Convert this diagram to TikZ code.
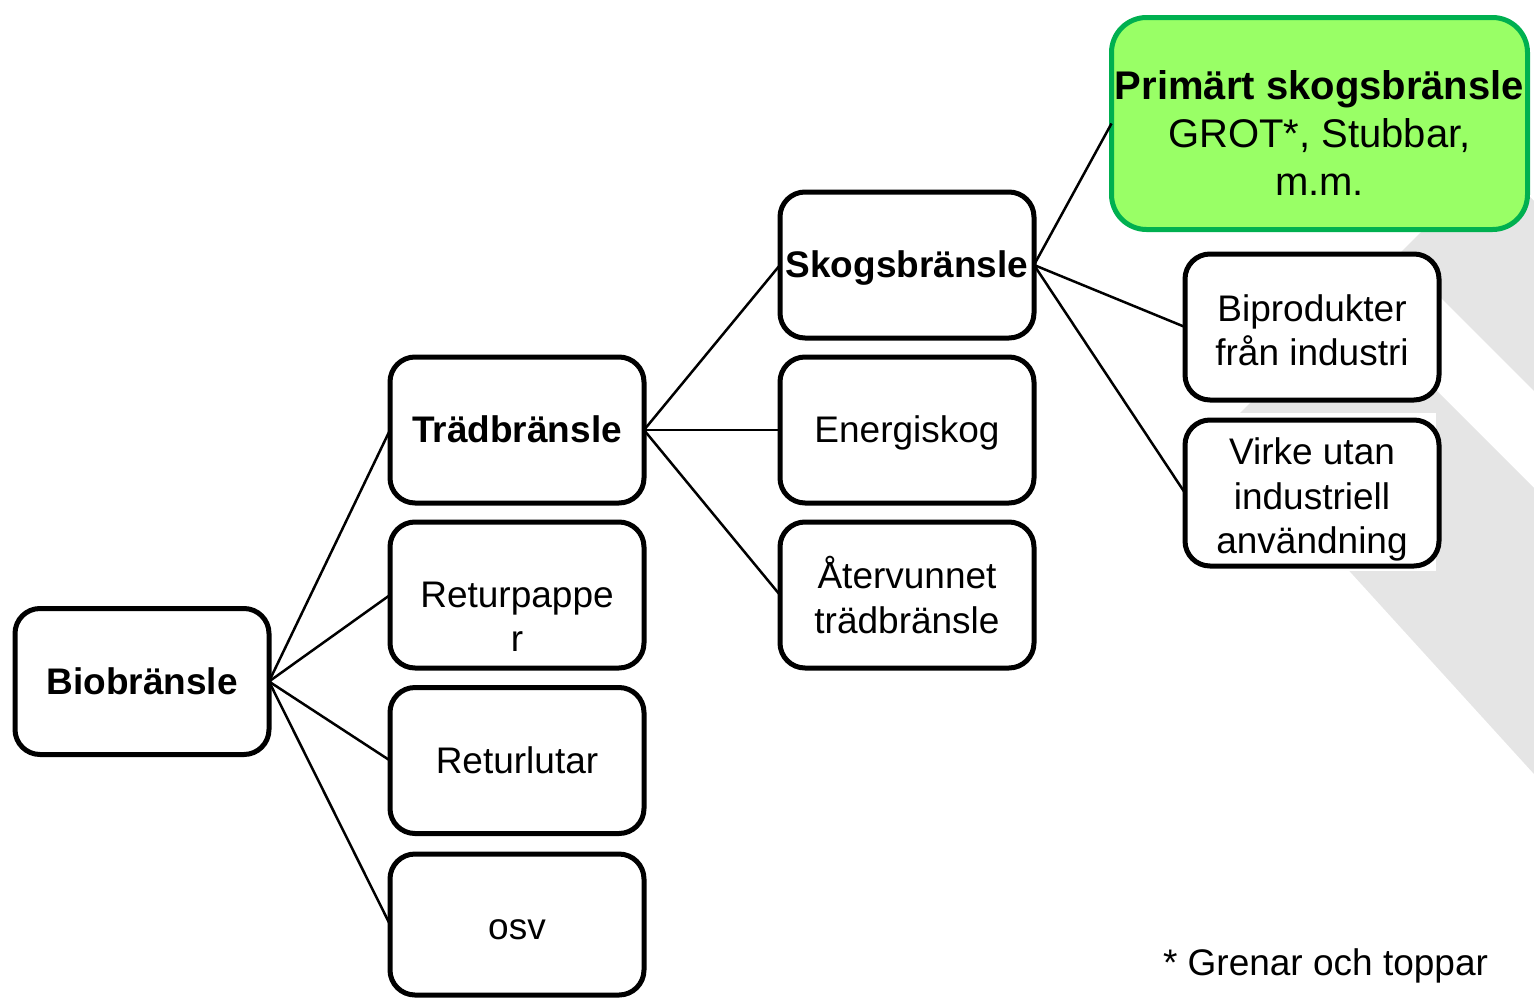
\documentclass[tikz,border=0pt]{standalone}
\usepackage{fontspec}
\setmainfont{Liberation Sans}
\definecolor{greenfill}{HTML}{99FF66}
\definecolor{greenline}{HTML}{00B050}
\definecolor{bandgray}{HTML}{E5E5E5}
\begin{document}
\begin{tikzpicture}[x=1pt,y=-1pt,
  box/.style={draw=black, line width=5pt, rounded corners=25pt, fill=white,
    minimum width=254pt, minimum height=146pt, inner sep=0pt, outer sep=0pt,
    align=center, font=\fontsize{37}{44.4}\selectfont},
  boldbox/.style={box, font=\fontsize{37}{44.4}\selectfont\bfseries},
  conn/.style={line width=2.5pt, draw=black},
  txt/.style={inner sep=0pt, outer sep=0pt, align=center, font=\fontsize{37}{44.4}\selectfont}]
\useasboundingbox (0,0) rectangle (1534,1002);
% background decoration
\fill[bandgray] (1493,160) -- (1534,201) -- (1534,391) -- (1398,255) -- cycle;
\fill[bandgray] (1349.5,303.5) -- (1534,488) -- (1534,774) -- (1222,431) -- cycle;
\fill[white] (1186,413) rectangle (1436,571);
% nodes
\node[boldbox] (bio) at (142,681.5) {Biobränsle};
\node[box] (trad) at (517,430) {};
\node[txt, font=\fontsize{37}{44.4}\selectfont\bfseries] (tradtext) at (517,429) {Trädbränsle};
\node[box] (ret) at (517,595) {};
\node[txt] (rettext) at (517,617) {Returpappe\\r};
\node[box] (lut) at (517,760.5) {Returlutar};
\node[box, minimum height=141pt] (osv) at (517,924.5) {};
\node[txt] (osvtext) at (517,930) {osv};
\node[box] (skog) at (907,265) {};
\node[txt, font=\fontsize{37}{44.4}\selectfont\bfseries] (skogtext) at (907,268) {Skogsbränsle};
\node[box] (energ) at (907,430) {};
\node[txt] (energtext) at (907,433) {Energiskog};
\node[box] (ater) at (907,595) {Återvunnet\\trädbränsle};
\node[box, draw=greenline, fill=greenfill, rounded corners=35pt,
  minimum width=416pt, minimum height=212pt] (prim) at (1319.5,123.5) {};
\node[txt, font=\fontsize{40}{48}\selectfont] (primtext) at (1319.5,133)
  {\textbf{Primärt skogsbränsle}\\GROT*, Stubbar,\\m.m.};
\node[box] (bipr) at (1312,327) {};
\node[txt] (biprtext) at (1312,330) {Biprodukter\\från industri};
\node[box] (virke) at (1312,493) {};
\node[txt] (virketext) at (1312,499.5) {Virke utan\\industriell\\användning};
\node[txt] (note) at (1325.5,966) {* Grenar och toppar};
% connectors
\draw[conn] (bio.east) -- (trad.west);
\draw[conn] (bio.east) -- (ret.west);
\draw[conn] (bio.east) -- (lut.west);
\draw[conn] (bio.east) -- (osv.west);
\draw[conn] (trad.east) -- (skog.west);
\draw[conn] (trad.east) -- (energ.west);
\draw[conn] (trad.east) -- (ater.west);
\draw[conn] (skog.east) -- (prim.west);
\draw[conn] (skog.east) -- (bipr.west);
\draw[conn] (skog.east) -- (virke.west);
\end{tikzpicture}
\end{document}
